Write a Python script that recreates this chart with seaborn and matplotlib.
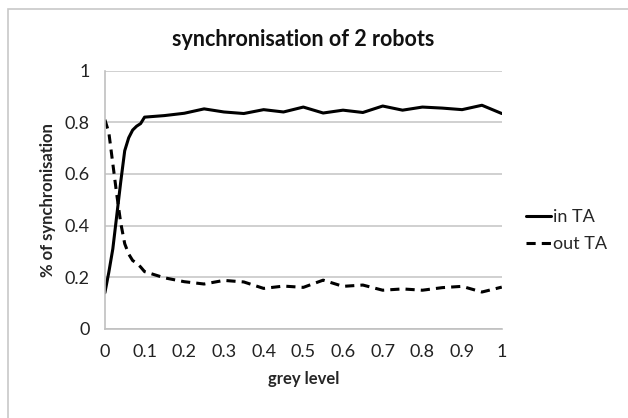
import seaborn as sns
import pandas as pd
import matplotlib.pyplot as plt
from matplotlib.patches import Rectangle

grey_level = [0, 0.01, 0.02, 0.03, 0.04, 0.05, 0.06, 0.07, 0.08, 0.09, 0.1,
              0.15, 0.2, 0.25, 0.3, 0.35, 0.4, 0.45, 0.5, 0.55, 0.6, 0.65,
              0.7, 0.75, 0.8, 0.85, 0.9, 0.95, 1.0]
in_ta = [0.14, 0.22, 0.31, 0.44, 0.57, 0.69, 0.74, 0.77, 0.785, 0.795, 0.82,
         0.826, 0.835, 0.852, 0.84, 0.834, 0.849, 0.84, 0.859, 0.836, 0.847, 0.838,
         0.863, 0.847, 0.859, 0.855, 0.849, 0.866, 0.834]
out_ta = [0.81, 0.76, 0.64, 0.52, 0.41, 0.33, 0.29, 0.265, 0.255, 0.24, 0.222,
          0.198, 0.183, 0.174, 0.188, 0.182, 0.157, 0.166, 0.161, 0.189, 0.165, 0.17,
          0.15, 0.155, 0.15, 0.16, 0.165, 0.143, 0.162]

df = pd.DataFrame({'grey level': grey_level, 'in TA': in_ta, 'out TA': out_ta})
long = df.melt(id_vars='grey level', var_name='series', value_name='sync')

sns.set_style('white')
plt.rcParams['font.family'] = ['Lato', 'DejaVu Sans']

fig = plt.figure(figsize=(6.28, 4.18), dpi=100)
ax = fig.add_axes([0.167, 0.213, 0.632, 0.618])

sns.lineplot(data=long, x='grey level', y='sync', style='series',
             dashes={'in TA': '', 'out TA': (3, 2)}, color='black',
             linewidth=2.2, ax=ax)
for line in ax.get_lines():
    line.set_solid_joinstyle('round')
    line.set_dash_joinstyle('round')

ax.set_xlim(0, 1)
ax.set_ylim(0, 1)
ax.set_xticks([i / 10 for i in range(11)])
ax.set_xticklabels(['0', '0.1', '0.2', '0.3', '0.4', '0.5', '0.6', '0.7', '0.8', '0.9', '1'])
ax.set_yticks([0, 0.2, 0.4, 0.6, 0.8, 1])
ax.set_yticklabels(['0', '0.2', '0.4', '0.6', '0.8', '1'])
ax.tick_params(labelsize=13, length=0, pad=11, colors='#222222')
ax.yaxis.grid(True, color='#c8c8c8', linewidth=1.2)
for s in ['top', 'right']:
    ax.spines[s].set_visible(False)
for s in ['left', 'bottom']:
    ax.spines[s].set_color('#c0c0c0')
    ax.spines[s].set_linewidth(1.2)

ax.set_title('synchronisation of 2 robots', fontsize=15.5, fontweight='bold',
             color='#111111', pad=18)
ax.set_xlabel('grey level', fontsize=12, fontweight='bold', labelpad=8)
ax.set_ylabel('% of synchronisation', fontsize=12, fontweight='bold', labelpad=6)

ax.legend(title=None, frameon=False, fontsize=13, loc='center left',
          bbox_to_anchor=(1.02, 0.38), handlelength=1.4, handletextpad=0.1,
          labelspacing=0.6)

fig.patches.append(Rectangle((8 / 628, -0.05), 1.1, 1 - 9 / 418 + 0.05,
                             transform=fig.transFigure, fill=False,
                             edgecolor='#c8c8c8', linewidth=1.2))

fig.savefig('out.png', dpi=100)
